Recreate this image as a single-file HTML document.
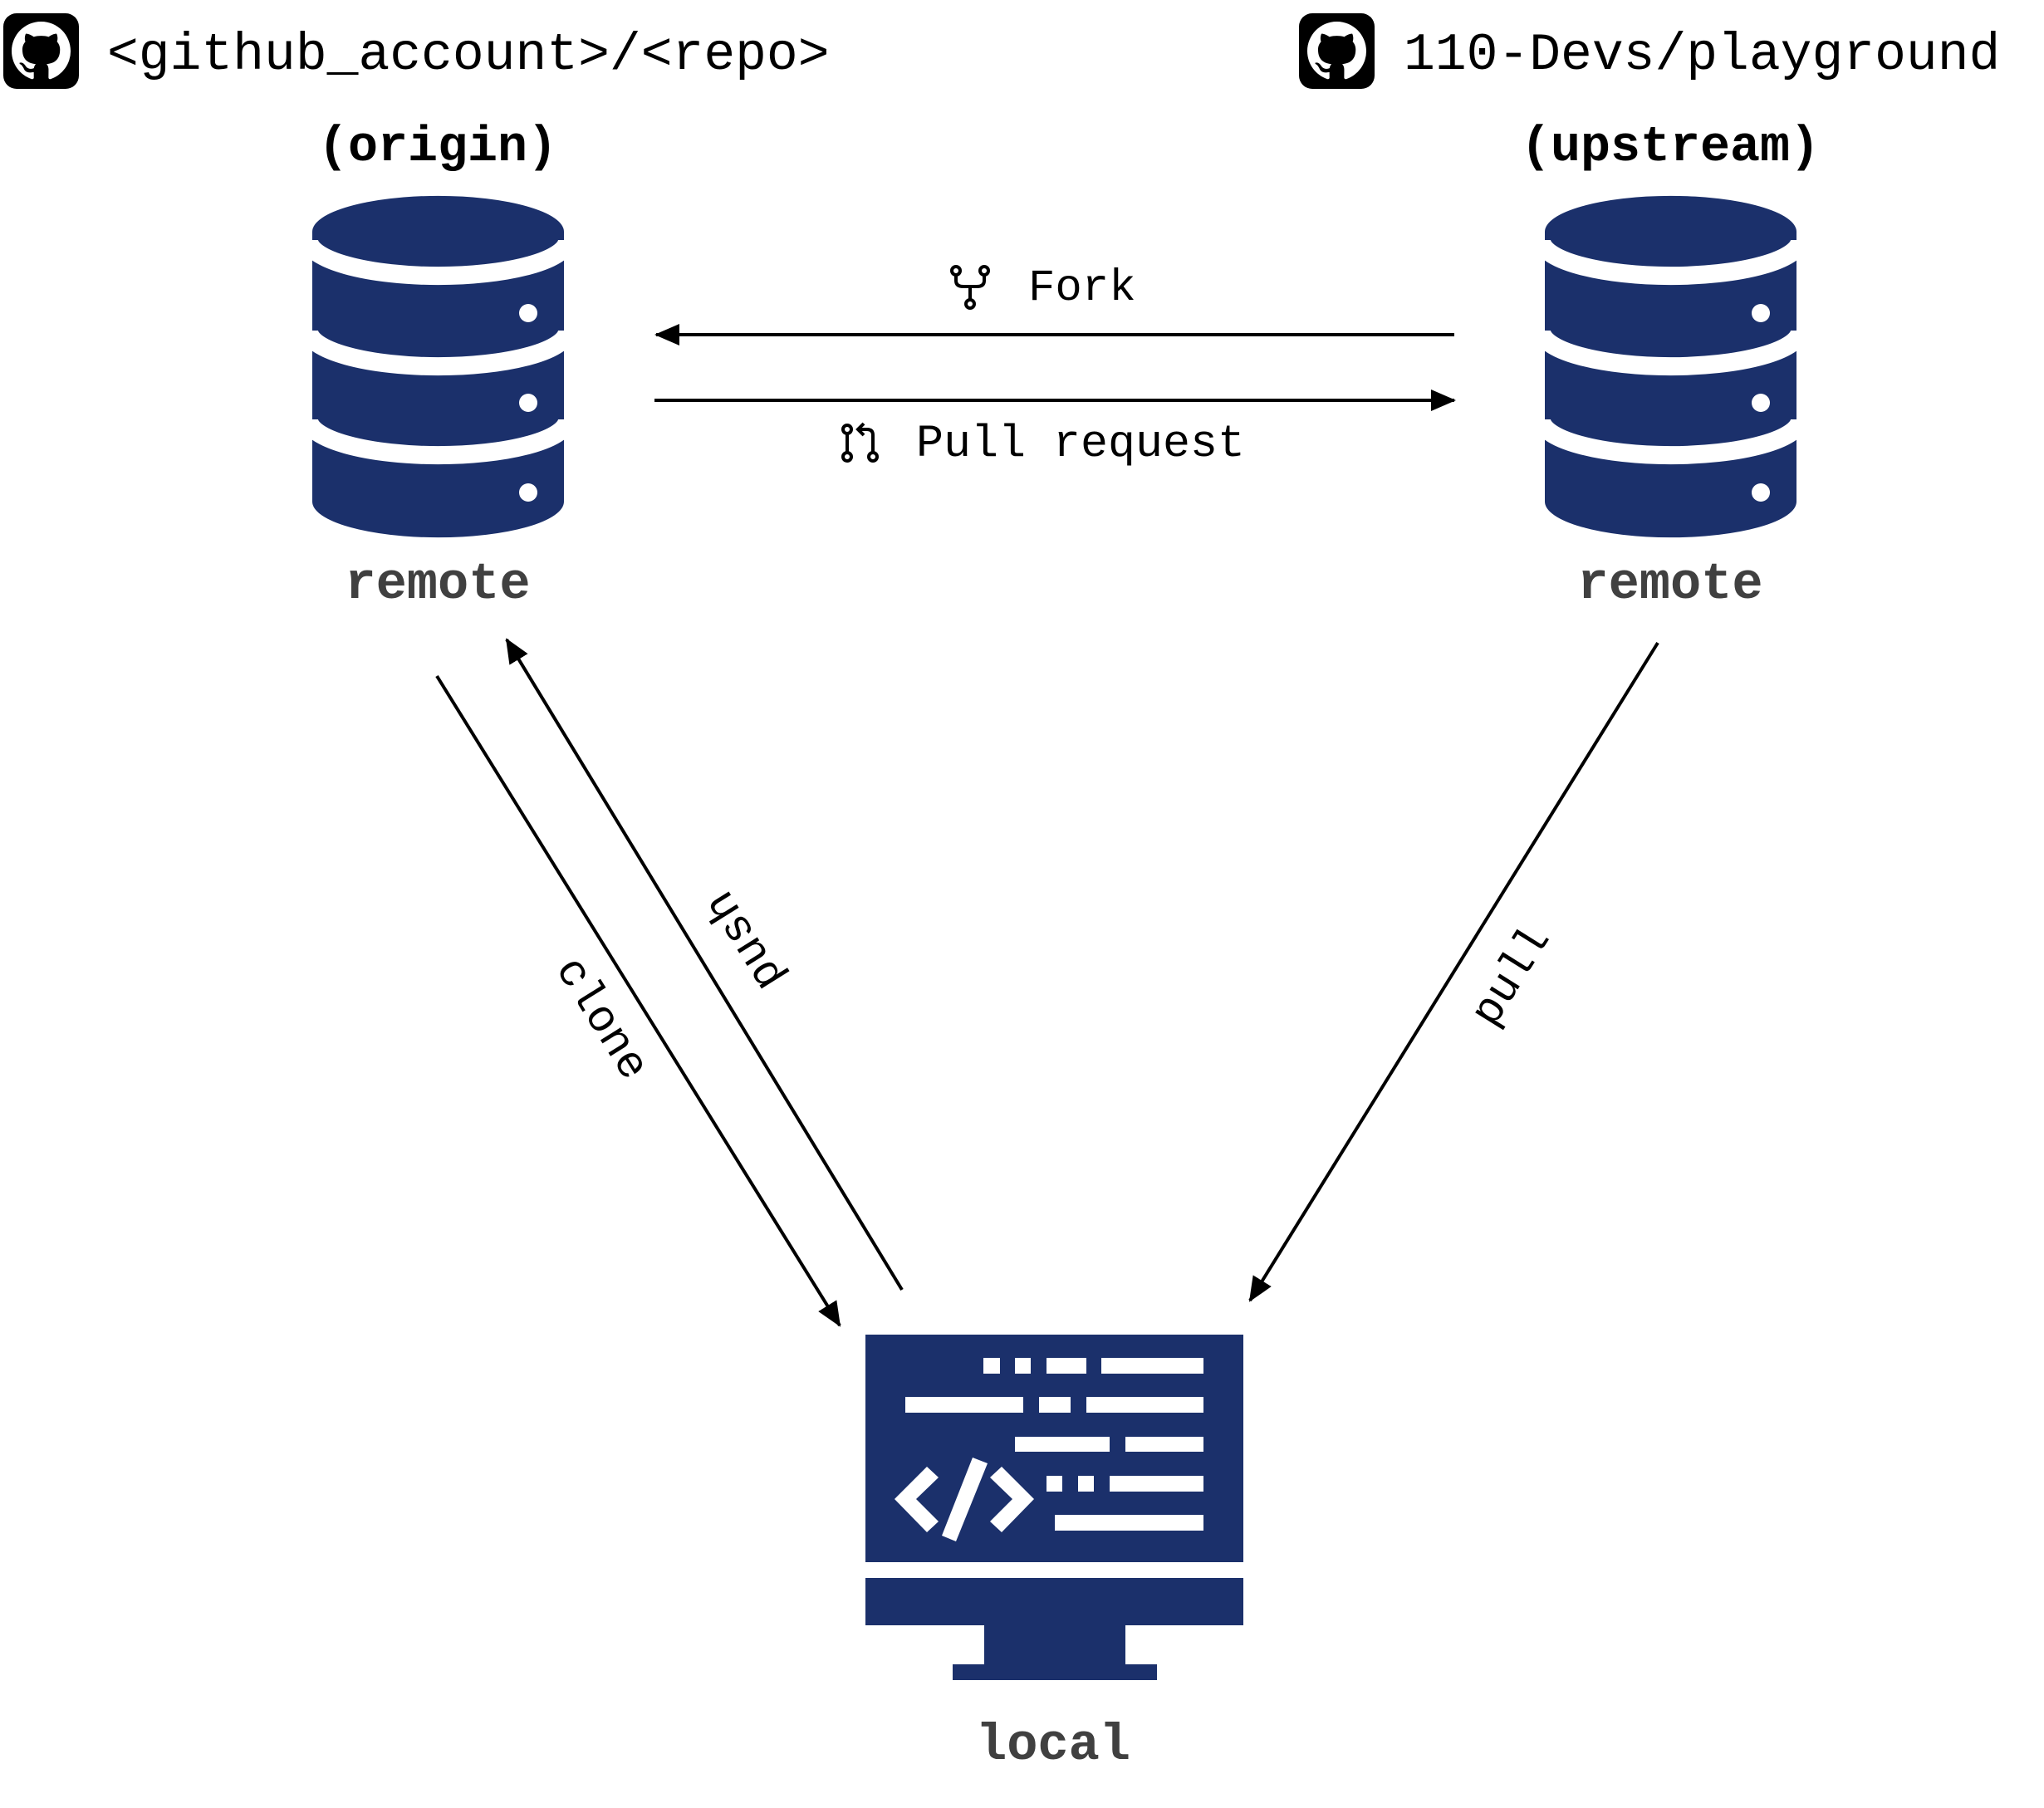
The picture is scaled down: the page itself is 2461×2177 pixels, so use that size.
<!DOCTYPE html>
<html><head><meta charset="utf-8"><style>
html,body{margin:0;padding:0;background:#fff}
svg{display:block}
text{font-family:"Liberation Mono","DejaVu Sans Mono",monospace}
</style></head><body>
<svg width="2461" height="2177" viewBox="0 0 2461 2177" xmlns="http://www.w3.org/2000/svg">
<defs>
<clipPath id="dbc"><rect x="376" y="200" width="303" height="460"/></clipPath>
<g id="db">
<path d="M376,279 A151,43 0 0 1 679,279 L679,604 A151,43 0 0 1 376,604 Z" fill="#1b306b"/>
<g clip-path="url(#dbc)">
<path d="M372,289 A155,43 0 0 0 683,289" fill="none" stroke="#fff" stroke-width="22"/>
<path d="M372,398 A155,43 0 0 0 683,398" fill="none" stroke="#fff" stroke-width="22"/>
<path d="M372,505 A155,43 0 0 0 683,505" fill="none" stroke="#fff" stroke-width="22"/>
</g>
<circle cx="636" cy="377" r="11" fill="#fff"/>
<circle cx="636" cy="485" r="11" fill="#fff"/>
<circle cx="636" cy="593" r="11" fill="#fff"/>
</g>
<g id="gh">
<rect x="0" y="0" width="91" height="91" rx="16" fill="#000"/>
<g transform="translate(10,10) scale(4.44)"><path fill="#fff" d="M8 0C3.58 0 0 3.58 0 8c0 3.54 2.29 6.530 5.47 7.59.4.07.55-.17.55-.38 0-.19-.01-.82-.01-1.490-2.01.37-2.53-.49-2.69-.94-.09-.23-.48-.94-.82-1.13-.28-.15-.68-.52-.01-.53.63-.01 1.08.58 1.23.82.72 1.21 1.87.87 2.33.66.07-.52.28-.87.51-1.07-1.78-.2-3.64-.89-3.64-3.95 0-.87.31-1.59.82-2.15-.08-.2-.36-1.02.08-2.12 0 0 .67-.21 2.2.82.64-.18 1.32-.27 2-.27.68 0 1.36.09 2 .27 1.53-1.04 2.2-.82 2.2-.82.44 1.1.16 1.92.08 2.12.51.56.82 1.27.82 2.15 0 3.07-1.870 3.75-3.65 3.95.29.25.54.73.54 1.48 0 1.07-.01 1.930-.01 2.2 0 .21.15.46.55.38A8.013 8.013 0 0016 8c0-4.42-3.58-8-8-8z"/></g>
</g>
<marker id="ah" markerWidth="30" markerHeight="26" refX="28" refY="13" orient="auto" markerUnits="userSpaceOnUse"><path d="M0,0 L30,13 L0,26 Z" fill="#000"/></marker>
</defs>

<use href="#gh" x="4" y="16"/>
<text x="129" y="83" font-size="63" fill="#000">&lt;github_account&gt;/&lt;repo&gt;</text>
<use href="#gh" x="1564" y="16"/>
<text x="1690" y="83" font-size="63" fill="#000">110-Devs/playground</text>

<text x="527" y="193" font-size="60" font-weight="bold" text-anchor="middle" fill="#000">(origin)</text>
<text x="2011" y="193" font-size="60" font-weight="bold" text-anchor="middle" fill="#000">(upstream)</text>

<use href="#db"/>
<use href="#db" x="1484"/>

<text x="527" y="720" font-size="62" font-weight="bold" text-anchor="middle" fill="#404040">remote</text>
<text x="2011" y="720" font-size="62" font-weight="bold" text-anchor="middle" fill="#404040">remote</text>

<line x1="1751" y1="403" x2="790" y2="403" stroke="#000" stroke-width="4" marker-end="url(#ah)"/>
<line x1="788" y1="482" x2="1751" y2="482" stroke="#000" stroke-width="4" marker-end="url(#ah)"/>

<g fill="none" stroke="#000" stroke-width="4">
<circle cx="1151" cy="326" r="5"/><circle cx="1185" cy="326" r="5"/><circle cx="1168" cy="366" r="5"/>
<path d="M1151,331 V338 Q1151,345 1160,345 H1176 Q1185,345 1185,338 V331 M1168,345 V361"/>
</g>
<text x="1238" y="361" font-size="54" fill="#000">Fork</text>

<g fill="none" stroke="#000" stroke-width="4">
<circle cx="1020" cy="517" r="5"/><circle cx="1020" cy="550" r="5"/><circle cx="1051" cy="550" r="5"/>
<path d="M1020,522 V545 M1051,545 V524 Q1051,517 1044,517 H1036"/>
<path d="M1040,510 L1033,517 L1040,524" />
</g>
<text x="1103" y="549" font-size="55" fill="#000">Pull request</text>

<line x1="526" y1="814" x2="1011" y2="1596" stroke="#000" stroke-width="4" marker-end="url(#ah)"/>
<line x1="1086" y1="1553" x2="610" y2="770" stroke="#000" stroke-width="4" marker-end="url(#ah)"/>
<line x1="1996" y1="774" x2="1505" y2="1566" stroke="#000" stroke-width="4" marker-end="url(#ah)"/>

<text transform="translate(727,1225) rotate(58)" x="0" y="18" font-size="54" text-anchor="middle" fill="#000">clone</text>
<text transform="translate(894,1134) rotate(238)" x="0" y="18" font-size="54" text-anchor="middle" fill="#000">push</text>
<text transform="translate(1817,1174) rotate(-58)" x="0" y="18" font-size="54" text-anchor="middle" fill="#000">pull</text>

<g fill="#1b306b">
<rect x="1042" y="1607" width="455" height="274"/>
<rect x="1042" y="1900" width="455" height="57"/>
<rect x="1185" y="1956" width="170" height="49"/>
<rect x="1147" y="2004" width="246" height="19"/>
</g>
<g fill="#fff">
<rect x="1184" y="1635" width="20" height="19"/><rect x="1222" y="1635" width="19" height="19"/><rect x="1260" y="1635" width="48" height="19"/><rect x="1326" y="1635" width="123" height="19"/>
<rect x="1090" y="1682" width="142" height="19"/><rect x="1251" y="1682" width="38" height="19"/><rect x="1308" y="1682" width="141" height="19"/>
<rect x="1222" y="1730" width="114" height="18"/><rect x="1355" y="1730" width="94" height="18"/>
<rect x="1260" y="1777" width="19" height="19"/><rect x="1298" y="1777" width="19" height="19"/><rect x="1336" y="1777" width="113" height="19"/>
<rect x="1270" y="1824" width="179" height="19"/>
<polygon points="1116,1766 1130,1779 1103,1805 1130,1832 1116,1845 1077,1805"/>
<polygon points="1206,1766 1192,1779 1219,1805 1192,1832 1206,1845 1245,1805"/>
<polygon points="1171,1755 1189,1762 1151,1856 1134,1849"/>
</g>
<text x="1268" y="2118" font-size="62" font-weight="bold" text-anchor="middle" fill="#404040">local</text>
</svg>
</body></html>
